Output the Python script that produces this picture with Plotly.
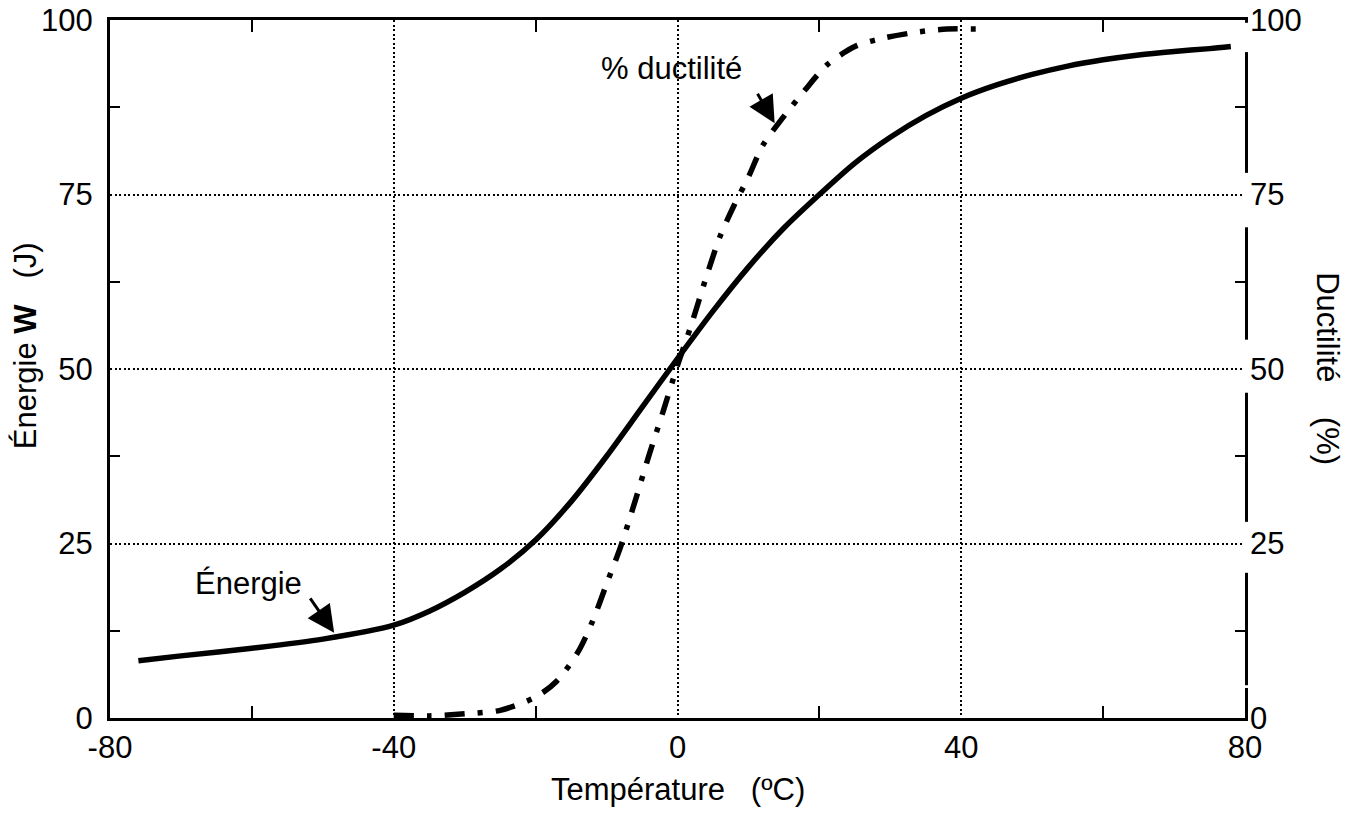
import plotly.graph_objects as go

# Energy curve (J) vs temperature (°C)
temp_energy = [-76, -70, -60, -50, -40, -35, -30, -25, -20, -15, -10, -5, 0, 5, 10, 15,
               20, 25, 30, 35, 40, 45, 50, 55, 60, 65, 70, 75, 78]
energy = [8.2, 8.9, 10.0, 11.3, 13.3, 15.3, 18.0, 21.3, 25.5, 31.0, 37.5, 44.5, 51.5, 58.3,
          64.6, 70.2, 75.0, 79.5, 83.2, 86.3, 88.8, 90.7, 92.2, 93.4, 94.3, 95.0, 95.5, 95.9, 96.2]

# Ductility curve (%) vs temperature (°C)
temp_duct = [-40, -35, -30, -25, -20, -17, -14, -12, -10, -8, -6, -4, -2, 0, 2, 4, 6, 8,
             10, 12, 15, 18, 21, 25, 29, 34, 38, 43.5]
ductility = [0.4, 0.3, 0.6, 1.1, 3.0, 5.3, 9.5, 13.8, 19.2, 24.6, 31.0, 37.7, 44.0, 50.5,
             56.5, 63.0, 69.0, 73.5, 77.5, 82.0, 86.2, 90.0, 93.5, 96.2, 97.4, 98.3, 98.7, 98.7]

x_ticks = [-80, -40, 0, 40, 80]
x_minor = [-60, -20, 20, 60]
y_ticks = [0, 25, 50, 75, 100]
y_minor = [12.5, 37.5, 62.5, 87.5]

FONT = "Liberation Sans, Arial, sans-serif"
FS = 31

fig = go.Figure()
fig.add_trace(go.Scatter(x=temp_energy, y=energy, mode="lines",
                         line=dict(color="black", width=5.5, shape="spline", smoothing=0.8),
                         yaxis="y", showlegend=False))
fig.add_trace(go.Scatter(x=temp_duct, y=ductility, mode="lines",
                         line=dict(color="black", width=5.5, dash="20px,13px,5px,13px",
                                   shape="spline", smoothing=0.8),
                         yaxis="y2", showlegend=False))

grid = dict(showgrid=True, gridcolor="black", gridwidth=1.5, griddash="2px,2.5px")

fig.update_layout(
    width=1343, height=810,
    margin=dict(l=102, r=106, t=12, b=100, autoexpand=False),
    plot_bgcolor="white", paper_bgcolor="white",
    font=dict(family=FONT, size=FS, color="black"),
    xaxis=dict(range=[-80, 80], tickvals=x_ticks, ticktext=[str(v) for v in x_ticks],
               ticks="", showline=True, linecolor="black", linewidth=3, mirror="ticks",
               ticklabelstandoff=0, zeroline=False, automargin=False,
               ticklabeloverflow="allow",
               minor=dict(tickvals=x_minor, ticks="inside", ticklen=12, tickwidth=2,
                          tickcolor="black", showgrid=False),
               **grid),
    yaxis=dict(range=[0, 100], tickvals=y_ticks, ticks="", showline=True, linecolor="black",
               linewidth=3, mirror="ticks", ticklabelstandoff=8, zeroline=False,
               automargin=False, ticklabeloverflow="allow",
               minor=dict(tickvals=y_minor, ticks="inside", ticklen=10, tickwidth=2,
                          tickcolor="black", showgrid=False),
               **grid),
    yaxis2=dict(range=[0, 100], tickvals=y_ticks, overlaying="y", side="right",
                showline=False, ticks="", showgrid=False, zeroline=False,
                ticklabelstandoff=4, automargin=False, ticklabeloverflow="allow"),
)

# white breaks in the right-hand frame line (as in the original figure)
for lo, hi in [(95.4, 99.6), (70.3, 78.1), (46.6, 54.2), (20.8, 28.1), (4.3, 4.7)]:
    fig.add_shape(type="line", xref="paper", yref="y", x0=1.0, x1=1.0, y0=lo, y1=hi,
                  line=dict(color="white", width=6), layer="above")

# axis titles
fig.add_annotation(text="Température\u00a0\u00a0\u00a0(ºC)", xref="paper", yref="paper",
                   x=0.5, y=-0.103, xanchor="center", yanchor="middle", showarrow=False,
                   font=dict(size=FS))
fig.add_annotation(text="Énergie <b>W</b>\u00a0\u00a0\u00a0(J)", xref="paper", yref="paper",
                   x=-0.075, y=0.534, xanchor="center", yanchor="middle", textangle=-90,
                   showarrow=False, font=dict(size=FS))
fig.add_annotation(text="Ductilité\u00a0\u00a0\u00a0\u00a0(%)", xref="paper", yref="paper",
                   x=1.073, y=0.5, xanchor="center", yanchor="middle", textangle=90,
                   showarrow=False, font=dict(size=FS))

# curve labels with arrows
fig.add_annotation(text="Énergie", x=-60.5, y=19.2, xref="x", yref="y",
                   showarrow=False, font=dict(size=FS))
fig.add_annotation(text="", x=-48.4, y=12.2, xref="x", yref="y", ax=-25, ay=-36,
                   showarrow=True, arrowhead=2, arrowsize=1.8, arrowwidth=3,
                   arrowcolor="black")
fig.add_annotation(text="% ductilité", x=-0.8, y=93, xref="x", yref="y",
                   showarrow=False, font=dict(size=FS))
fig.add_annotation(text="", x=13.7, y=85.2, xref="x", yref="y", ax=-18, ay=-31,
                   showarrow=True, arrowhead=2, arrowsize=1.8, arrowwidth=3,
                   arrowcolor="black")

fig.write_html("out.html")
